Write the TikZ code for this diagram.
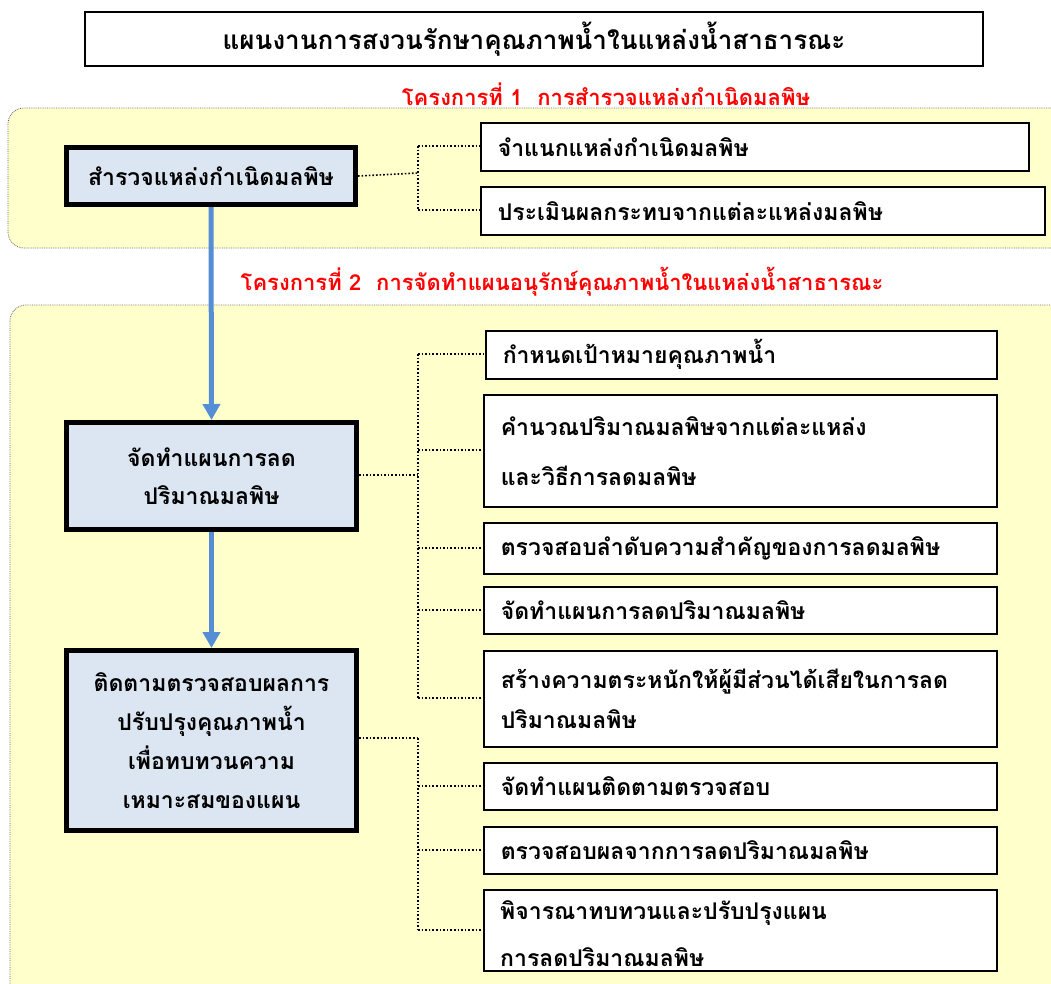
\documentclass[tikz,border=0pt]{standalone}
\usepackage{fontspec}
\newfontfamily\thai[Script=Thai]{Loma}
\usetikzlibrary{arrows.meta,positioning}
\definecolor{panelfill}{HTML}{FFFFCC}
\definecolor{mainfill}{HTML}{DCE6F2}
\definecolor{arrowblue}{HTML}{558ED5}
\tikzset{
  panel/.style={draw=black!60, densely dotted, line width=0.8pt, fill=panelfill, rounded corners=16pt},
  mainbox/.style={draw=black, line width=5pt, fill=mainfill, align=center, inner sep=0pt,
     font=\thai\bfseries\fontsize{23}{38}\selectfont, anchor=north west},
  subbox/.style={draw=black, line width=1.6pt, fill=white, align=left, inner ysep=0pt, inner xsep=17pt,
     font=\thai\bfseries\fontsize{23}{40}\selectfont, anchor=north west},
  redlabel/.style={text=red, font=\thai\bfseries\fontsize{22}{26}\selectfont},
  flowarrow/.style={draw=arrowblue, line width=5pt, -{Triangle[width=17pt,length=16pt]}},
  dotline/.style={draw=black, dotted, line width=1.6pt},
}
\begin{document}
\begin{tikzpicture}[x=1pt,y=-1pt]
\useasboundingbox (0,0) rectangle (1051,983);
% title
\node[draw=black, line width=2pt, minimum width=898pt, minimum height=54pt, anchor=north west,
  font=\thai\bfseries\fontsize{26}{30}\selectfont] (title) at (84,11) {แผนงานการสงวนรักษาคุณภาพน้ำในแหล่งน้ำสาธารณะ};
% panel 1
\node[redlabel] (p1label) at (606,94) {โครงการที่ 1\ \ การสำรวจแหล่งกำเนิดมลพิษ};
\path[panel] (8,108) rectangle (1070,248);
% panel 2
\node[redlabel] (p2label) at (562,282) {โครงการที่ 2\ \ การจัดทำแผนอนุรักษ์คุณภาพน้ำในแหล่งน้ำสาธารณะ};
\path[panel] (10,305) rectangle (1070,1010);

% main boxes
\node[mainbox, minimum width=289pt, minimum height=57pt] (m1) at (64,145) {สำรวจแหล่งกำเนิดมลพิษ};
\node[mainbox, minimum width=290pt, minimum height=107pt] (m2) at (64,420) {จัดทำแผนการลด\\ปริมาณมลพิษ};
\node[mainbox, minimum width=290pt, minimum height=180pt, font=\thai\bfseries\fontsize{23}{39}\selectfont] (m3) at (64,648) {ติดตามตรวจสอบผลการ\\ปรับปรุงคุณภาพน้ำ\\เพื่อทบทวนความ\\เหมาะสมของแผน};

% sub boxes panel 1
\node[subbox, minimum width=548pt, text width=514pt, minimum height=48pt] (a1) at (480,122) {จำแนกแหล่งกำเนิดมลพิษ};
\node[subbox, minimum width=564pt, text width=530pt, minimum height=48pt] (a2) at (480,186) {ประเมินผลกระทบจากแต่ละแหล่งมลพิษ};

% sub boxes panel 2
\node[subbox, minimum width=511pt, text width=477pt, minimum height=48pt] (b1) at (485,330) {กำหนดเป้าหมายคุณภาพน้ำ};
\node[subbox, minimum width=513pt, text width=479pt, minimum height=112pt, font=\thai\bfseries\fontsize{23}{50}\selectfont] (b2) at (483,394) {คำนวณปริมาณมลพิษจากแต่ละแหล่ง\\และวิธีการลดมลพิษ};
\node[subbox, minimum width=513pt, text width=479pt, minimum height=51pt] (b3) at (483,522) {ตรวจสอบลำดับความสำคัญของการลดมลพิษ};
\node[subbox, minimum width=513pt, text width=479pt, minimum height=47pt] (b4) at (483,586) {จัดทำแผนการลดปริมาณมลพิษ};
\node[subbox, minimum width=513pt, text width=479pt, minimum height=96pt] (b5) at (483,650) {สร้างความตระหนักให้ผู้มีส่วนได้เสียในการลด\\ปริมาณมลพิษ};
\node[subbox, minimum width=513pt, text width=479pt, minimum height=47pt] (c1) at (483,762) {จัดทำแผนติดตามตรวจสอบ};
\node[subbox, minimum width=513pt, text width=479pt, minimum height=47pt] (c2) at (483,826) {ตรวจสอบผลจากการลดปริมาณมลพิษ};
\node[subbox, minimum width=513pt, text width=479pt, minimum height=81pt] (c3) at (483,889) {};
\node[anchor=north west, inner sep=0pt, align=left, font=\thai\bfseries\fontsize{23}{47}\selectfont] (c3text) at (500,900) {พิจารณาทบทวนและปรับปรุงแผน\\การลดปริมาณมลพิษ};
\draw[black, line width=1.6pt] (c3.south west) -- (c3.south east);

% blue arrows
\draw[flowarrow] (m1.south) -- (m2.north);
\draw[flowarrow] (m2.south) -- (m3.north);

% dotted connectors panel 1
\coordinate (j1) at (418,173);
\draw[dotline] (m1.east) -- (j1);
\draw[dotline] (418,146) -- (418,210);
\draw[dotline] (418,146) -- (a1.west |- 0,146);
\draw[dotline] (418,210) -- (a2.west |- 0,210);

% dotted connectors panel 2, group 1
\coordinate (j2) at (418,475);
\draw[dotline] (m2.east |- j2) -- (j2);
\draw[dotline] (418,354) -- (418,698);
\draw[dotline] (418,354) -- (b1.west |- 0,354);
\draw[dotline] (418,450) -- (b2.west |- 0,450);
\draw[dotline] (418,548) -- (b3.west |- 0,548);
\draw[dotline] (418,610) -- (b4.west |- 0,610);
\draw[dotline] (418,698) -- (b5.west |- 0,698);

% group 2
\coordinate (j3) at (418,738);
\draw[dotline] (m3.east |- j3) -- (j3);
\draw[dotline] (418,738) -- (418,930);
\draw[dotline] (418,786) -- (c1.west |- 0,786);
\draw[dotline] (418,850) -- (c2.west |- 0,850);
\draw[dotline] (418,930) -- (c3.west |- 0,930);
\end{tikzpicture}
\end{document}
